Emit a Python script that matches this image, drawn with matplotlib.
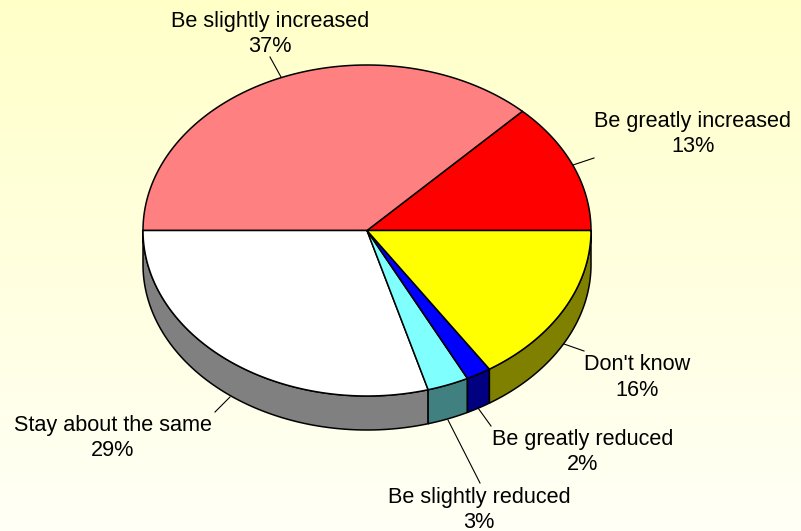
import numpy as np
import matplotlib
matplotlib.use('Agg')
import matplotlib.pyplot as plt
from matplotlib.colors import to_rgb, LinearSegmentedColormap

# counter clockwise from 3 o'clock, shares
names = ["Be greatly increased", "Be slightly increased", "Stay about the same",
         "Be slightly reduced", "Be greatly reduced", "Don't know"]
shares = [12.8, 37.2, 29.4, 3.0, 1.8, 15.8]
pct_labels = ["13%", "37%", "29%", "3%", "2%", "16%"]
colors = ["#FF0000", "#FF8080", "#FFFFFF", "#80FFFF", "#0000FF", "#FFFF00"]

# label centre (x, y of first line) and leader line, pixels
label_pos = [(693, 121), (270, 21), (113, 425), (479, 497), (583, 439), (637, 365)]
leaders = [((594, 158), (573, 165)), ((270, 57), (281, 77)), ((215, 412), (230, 397)),
           ((480, 483), (448, 420)), ((491, 426), (478, 408)), ((584, 351), (564, 344))]

cx, cy = 367, 230.5
rx, ry = 224, 165.5
depth = 34

plt.rcParams['font.family'] = ['Liberation Sans', 'DejaVu Sans']

fig = plt.figure(figsize=(8.01, 5.31), dpi=100)
ax = fig.add_axes([0, 0, 1, 1])
ax.set_xlim(0, 801)
ax.set_ylim(531, 0)
ax.axis('off')

# background fade
cmap = LinearSegmentedColormap.from_list('bg', ["#FFFFC8", "#FFFFF6"])
ax.imshow(np.linspace(0, 1, 256).reshape(-1, 1), cmap=cmap, aspect='auto',
          extent=(0, 801, 531, 0), zorder=0)


def rim(a, b, dy=0):
    t = np.radians(np.linspace(a, b, 200))
    return cx + rx*np.cos(t), cy - ry*np.sin(t) + dy


edges = np.concatenate([[0], np.cumsum(shares)]) * 3.6
edges[-1] = 360

# side wall, lower half only
for i in range(len(shares)):
    a = max(edges[i], 180)
    b = edges[i+1]
    if b <= a:
        continue
    x1, y1 = rim(a, b)
    x2, y2 = rim(a, b, depth)
    shade = tuple(c*0.5 for c in to_rgb(colors[i]))
    ax.fill(np.r_[x1, x2[::-1]], np.r_[y1, y2[::-1]], facecolor=shade,
            edgecolor='black', lw=1.1, zorder=2)

# top face
for i in range(len(shares)):
    x, y = rim(edges[i], edges[i+1])
    ax.fill(np.r_[cx, x], np.r_[cy, y], facecolor=colors[i],
            edgecolor='black', lw=1.1, zorder=3)

for (p, q) in leaders:
    ax.plot([p[0], q[0]], [p[1], q[1]], color='black', lw=0.8, zorder=1)

for i in range(len(names)):
    ax.text(label_pos[i][0], label_pos[i][1], names[i], ha='center', va='center',
            fontsize=15.6, color='black', zorder=4)
    ax.text(label_pos[i][0], label_pos[i][1]+25, pct_labels[i], ha='center', va='center',
            fontsize=15.6, color='black', zorder=4)

fig.savefig('out.png', dpi=100)
